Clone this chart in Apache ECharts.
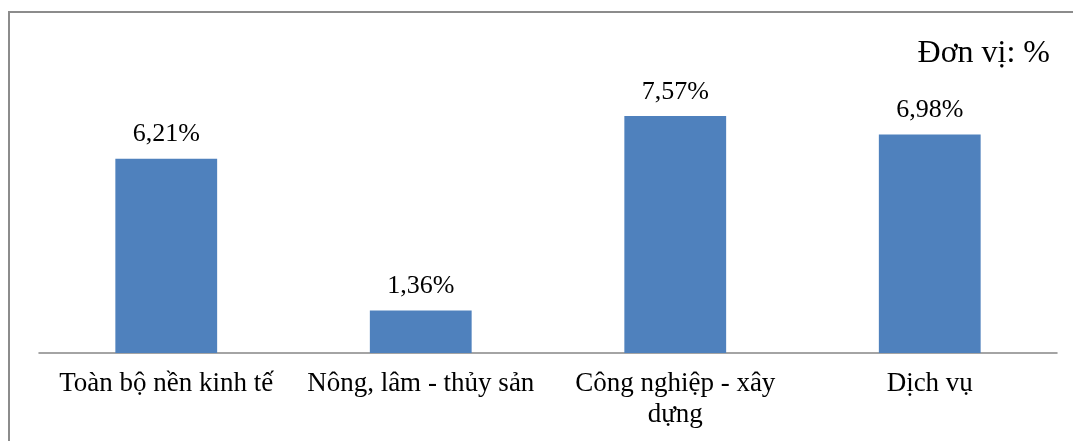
<!DOCTYPE html>
<html>
<head>
<meta charset="utf-8">
<script src="https://cdn.jsdelivr.net/npm/echarts@6/dist/echarts.min.js"></script>
<style>
  html, body { margin: 0; padding: 0; background: #fff; }
  #chart { width: 1073px; height: 441px; }
</style>
</head>
<body>
<div id="chart"></div>
<script>
// Tăng trưởng theo khu vực kinh tế (%)
const categories = ['Toàn bộ nền kinh tế', 'Nông, lâm - thủy sản', 'Công nghiệp - xây\ndựng', 'Dịch vụ'];
const growth = [6.21, 1.36, 7.57, 6.98];
const unitLabel = 'Đơn vị: %';

const serif = '"Liberation Serif", "Times New Roman", serif';
const chart = echarts.init(document.getElementById('chart'), null, { renderer: 'canvas' });

chart.setOption({
  animation: false,
  backgroundColor: '#ffffff',
  title: {
    text: unitLabel,
    right: 23,
    top: 38,
    padding: 0,
    textStyle: { fontFamily: serif, fontSize: 32, fontWeight: 'normal', color: '#000' }
  },
  graphic: [{
    type: 'rect',
    shape: { x: 9, y: 12, width: 1200, height: 600 },
    style: { fill: 'none', stroke: '#8c8c8c', lineWidth: 2 },
    silent: true
  }],
  grid: { left: 39, right: 16, top: 40, bottom: 88, containLabel: false },
  xAxis: {
    type: 'category',
    data: categories,
    boundaryGap: true,
    axisTick: { show: false },
    axisLine: { lineStyle: { color: '#868686', width: 1.5 } },
    axisLabel: {
      fontFamily: serif,
      fontSize: 27,
      color: '#000',
      margin: 15,
      lineHeight: 31,
      interval: 0
    }
  },
  yAxis: {
    type: 'value',
    min: 0,
    max: 10,
    show: false,
    splitLine: { show: false }
  },
  series: [{
    type: 'bar',
    data: growth,
    barWidth: '40%',
    itemStyle: { color: '#4f81bd' },
    label: {
      show: true,
      position: 'top',
      distance: 11,
      fontFamily: serif,
      fontSize: 26,
      color: '#000',
      formatter: p => p.value.toFixed(2).replace('.', ',') + '%'
    }
  }]
});
</script>
</body>
</html>
